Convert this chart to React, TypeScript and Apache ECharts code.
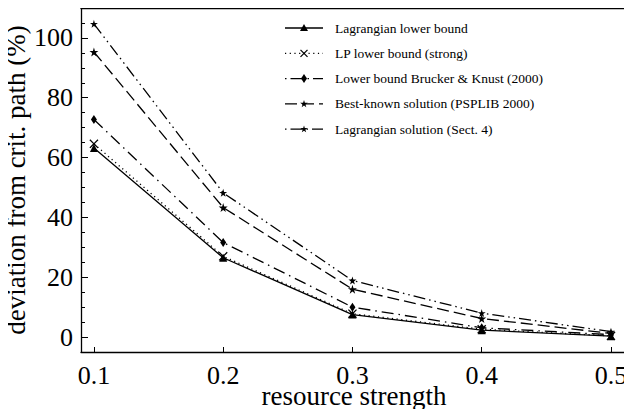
import React, { useEffect, useRef } from "react";
import * as echarts from "echarts";

const resourceStrength = [0.1, 0.2, 0.3, 0.4, 0.5];
const lagrangianLB = [63.2, 26.5, 7.5, 2.3, 0.3];
const lpStrong = [64.6, 27.0, 7.8, 2.6, 0.4];
const bruckerKnust = [72.7, 31.6, 10.0, 3.1, 0.8];
const bestKnown = [95.3, 43.3, 16.0, 6.2, 1.2];
const lagrangianSol = [104.7, 48.2, 18.9, 8.0, 1.8];
const seriesNames = [
  "Lagrangian lower bound",
  "LP lower bound (strong)",
  "Lower bound Brucker & Knust (2000)",
  "Best-known solution (PSPLIB 2000)",
  "Lagrangian solution (Sect. 4)",
];
const xTicks = [0.1, 0.2, 0.3, 0.4, 0.5];
const yMajorTicks = [0, 20, 40, 60, 80, 100];
const yMinorTicks = [5, 10, 15, 25, 30, 35, 45, 50, 55, 65, 70, 75, 85, 90, 95, 105];

const FONT = "Liberation Serif";
const LEGEND_FONT = "Times New Roman, Liberation Serif, serif";
const STAR = "path://M50,0L61,35L98,35L68,57L79,91L50,70L21,91L32,57L2,35L39,35Z";
const CROSS = "path://M0,1L1,0L5,4L9,0L10,1L6,5L10,9L9,10L5,6L1,10L0,9L4,5Z";
const STAR_PTS = [[50, 0], [61, 35], [98, 35], [68, 57], [79, 91], [50, 70], [21, 91], [32, 57], [2, 35], [39, 35]];

const DASHES: any[] = ["solid", [1.2, 3.5], [12, 5, 1.5, 5], [12, 5], [12, 4, 1.5, 4, 1.5, 4]];
const LEGEND_DASH: any[] = [null, [1.2, 3.5], [1.5, 4, 12, 5], [12, 5], [1.5, 4, 12, 4]];
const SYMBOLS = ["triangle", CROSS, "diamond", STAR, STAR];
const SIZES: any[] = [8, 9, [6, 9], 9, 8];

function legendMarker(kind: number, cx: number, cy: number): any[] {
  const s = { fill: "#000", stroke: "none" };
  if (kind === 0) {
    return [{ type: "polygon", shape: { points: [[cx, cy - 4], [cx + 4, cy + 3], [cx - 4, cy + 3]] }, style: s, z: 101 }];
  }
  if (kind === 1) {
    const l = { stroke: "#000", lineWidth: 1.2 };
    return [
      { type: "line", shape: { x1: cx - 3.5, y1: cy - 3.5, x2: cx + 3.5, y2: cy + 3.5 }, style: l, z: 101 },
      { type: "line", shape: { x1: cx + 3.5, y1: cy - 3.5, x2: cx - 3.5, y2: cy + 3.5 }, style: l, z: 101 },
    ];
  }
  if (kind === 2) {
    return [{ type: "polygon", shape: { points: [[cx, cy - 4.5], [cx + 3, cy], [cx, cy + 4.5], [cx - 3, cy]] }, style: s, z: 101 }];
  }
  const k = kind === 3 ? 0.08 : 0.075;
  return [
    {
      type: "polygon",
      shape: { points: STAR_PTS.map(([px, py]) => [cx + (px - 50) * k, cy + (py - 50) * k]) },
      style: s,
      z: 101,
    },
  ];
}

export default function App() {
  const ref = useRef<HTMLDivElement>(null);
  useEffect(() => {
    if (!ref.current) return;
    const chart = echarts.init(ref.current, undefined, { renderer: "svg" });
    const pair = (ys: number[]) => resourceStrength.map((x, i) => [x, ys[i]]);
    const allData = [lagrangianLB, lpStrong, bruckerKnust, bestKnown, lagrangianSol];
    const series = allData.map((ys, i) => ({
      name: seriesNames[i],
      type: "line",
      data: pair(ys),
      symbol: SYMBOLS[i],
      symbolSize: SIZES[i],
      showSymbol: true,
      lineStyle: { color: "#000", width: 1.3, type: DASHES[i] },
      itemStyle: { color: "#000", borderWidth: 0 },
      z: 3,
    }));

    const legendEls: any[] = [];
    const rowY = (i: number) => 28 + i * 25.3;
    seriesNames.forEach((name, i) => {
      const y = rowY(i);
      const dash = LEGEND_DASH[i];
      legendEls.push({
        type: "line",
        shape: { x1: 285, y1: y, x2: 323, y2: y },
        style: { stroke: "#000", lineWidth: 1.3, lineDash: dash || undefined },
        z: 100,
      });
      legendEls.push(...legendMarker(i, 304, y));
      legendEls.push({
        type: "text",
        x: 335,
        y,
        style: {
          text: name,
          fontFamily: LEGEND_FONT,
          fontSize: 13.5,
          fill: "#000",
          verticalAlign: "middle",
          align: "left",
        },
        z: 100,
      });
    });

    chart.setOption({
      animation: false,
      textStyle: { fontFamily: FONT, color: "#000" },
      grid: { left: 81, right: 5, top: 8, bottom: 65, outerBoundsMode: "none", containLabel: false },
      graphic: legendEls,
      xAxis: [
        {
          type: "value",
          min: 0.09,
          max: 0.5124,
          name: "resource strength",
          nameLocation: "middle",
          nameGap: 30,
          nameMoveOverlap: false,
          nameTextStyle: { fontFamily: FONT, fontSize: 27, color: "#000" },
          axisLine: { onZero: false, lineStyle: { color: "#000", width: 1.3 } },
          axisTick: { inside: true, length: 5, customValues: xTicks, lineStyle: { color: "#000" } },
          axisLabel: {
            customValues: xTicks,
            fontFamily: FONT,
            fontSize: 26,
            color: "#000",
            margin: 10,
            formatter: (v: number) => v.toFixed(1),
          },
          splitLine: { show: false },
        },
        {
          type: "value",
          position: "top",
          min: 0.09,
          max: 0.5124,
          axisLine: { show: true, onZero: false, lineStyle: { color: "#000", width: 1.3 } },
          axisTick: { show: false },
          axisLabel: { show: false },
          splitLine: { show: false },
        },
      ],
      yAxis: [
        {
          type: "value",
          min: -5,
          max: 110,
          name: "deviation from crit. path (%)",
          nameLocation: "middle",
          nameGap: 52,
          nameMoveOverlap: false,
          nameTextStyle: { fontFamily: FONT, fontSize: 27, color: "#000" },
          axisLine: { show: true, onZero: false, lineStyle: { color: "#000", width: 1.3 } },
          axisTick: { inside: true, length: 7, customValues: yMajorTicks, lineStyle: { color: "#000" } },
          axisLabel: {
            customValues: yMajorTicks,
            fontFamily: FONT,
            fontSize: 26,
            color: "#000",
            margin: 8,
          },
          splitLine: { show: false },
        },
        {
          type: "value",
          min: -5,
          max: 110,
          position: "left",
          axisLine: { show: false, onZero: false },
          axisTick: { show: true, inside: true, length: 4, customValues: yMinorTicks, lineStyle: { color: "#000" } },
          axisLabel: { show: false },
          splitLine: { show: false },
        },
      ],
      series,
    });
    return () => chart.dispose();
  }, []);
  return <div ref={ref} style={{ width: 632, height: 417, margin: -8, background: "#fff" }} />;
}
